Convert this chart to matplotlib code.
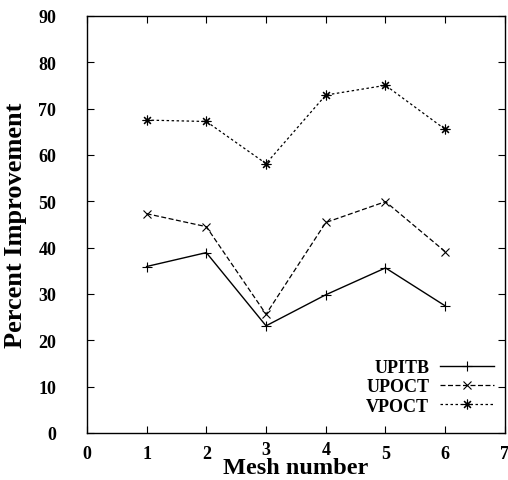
import matplotlib
matplotlib.use("Agg")
import matplotlib.pyplot as plt
import matplotlib.transforms as mtransforms

# values
mesh = [1, 2, 3, 4, 5, 6]
upitb = [35.9, 38.9, 23.1, 29.8, 35.6, 27.4]
upoct = [47.3, 44.5, 25.6, 45.4, 49.9, 39.1]
vpoct = [67.5, 67.2, 58.1, 72.9, 75.0, 65.5]
xticks = [0, 1, 2, 3, 4, 5, 6, 7]
yticks = [0, 10, 20, 30, 40, 50, 60, 70, 80, 90]

plt.rcParams['font.family'] = ['Liberation Serif', 'DejaVu Serif']
plt.rcParams['font.weight'] = 'bold'

fig = plt.figure(figsize=(5.08, 4.81), dpi=100)
ax = fig.add_axes([0.171, 0.098, 0.823, 0.867])

ax.plot(mesh, upitb, color='black', lw=1.0, marker='+', ms=7, mew=0.8, label='UPITB')
ax.plot(mesh, upoct, color='black', lw=0.9, dashes=(4, 2), marker='x', ms=6, mew=0.8, label='UPOCT')
ax.plot(mesh, vpoct, color='black', lw=0.9, dashes=(2, 2), marker=(8, 2, 0), ms=7, mew=0.8, label='VPOCT')

ax.set_xlim(0, 7)
ax.set_ylim(0, 90)
ax.set_xticks(xticks)
ax.set_yticks(yticks)
ax.tick_params(direction='in', length=5, width=0.8, top=True, right=True, labelsize=13)
ax.tick_params(axis='y', pad=22)
ax.tick_params(axis='x', pad=9)
for s in ax.spines.values():
    s.set_linewidth(1.0)

# the middle labels sit a little higher, clear of the axis title
fig.canvas.draw()
for lab in ax.get_xticklabels()[3:5]:
    lab.set_transform(lab.get_transform() + mtransforms.ScaledTranslation(0, 4 / 100, fig.dpi_scale_trans))

ax.set_xlabel('Mesh number', fontsize=17.5, fontweight='bold', labelpad=-4)
ax.set_ylabel('Percent Improvement', fontsize=19, fontweight='bold', labelpad=8)

leg = ax.legend(loc='lower right', bbox_to_anchor=(1.0, 0.018), frameon=False, markerfirst=False,
                numpoints=1, fontsize=13, handlelength=3.0, handletextpad=0.6, labelspacing=0.12,
                borderaxespad=0.2)
for t in leg.get_texts():
    t.set_fontweight('bold')

fig.savefig('out.png', dpi=100)
